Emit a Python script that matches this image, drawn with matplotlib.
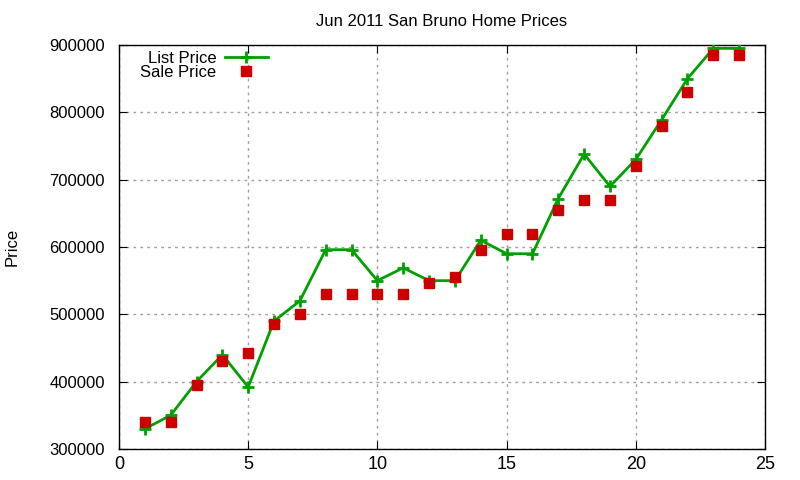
import matplotlib
matplotlib.use("Agg")
import matplotlib.pyplot as plt

plt.rcParams['font.family'] = ['Liberation Sans', 'DejaVu Sans']

x = list(range(1, 25))
list_price = [330000, 350000, 400000, 440000, 392000, 490000, 520000, 596000,
              596000, 550000, 569000, 550000, 550000, 610000, 590000, 590000,
              672000, 738000, 690000, 730000, 789000, 850000, 895000, 895000]
sale_price = [340000, 340000, 395000, 431000, 443000, 486000, 501000, 530000,
              530000, 530000, 530000, 546000, 556000, 596000, 620000, 620000,
              655000, 670000, 670000, 720000, 780000, 830000, 885000, 885000]
xticks = [0, 5, 10, 15, 20, 25]
yticks = [300000, 400000, 500000, 600000, 700000, 800000, 900000]

fig = plt.figure(figsize=(8, 4.8), dpi=100)
ax = fig.add_axes([119/800, 31/480, 646/800, 404/480])

ax.plot(x, list_price, color='#00a000', lw=2, marker='+', ms=8, mew=2,
        label='List Price', zorder=3)
ax.plot(x, sale_price, ls='none', marker='s', ms=6.5, color='#cc0000',
        label='Sale Price', zorder=4)

ax.set_xlim(0, 25)
ax.set_ylim(300000, 900000)
ax.set_xticks(xticks)
ax.set_yticks(yticks)
ax.set_xticklabels([str(t) for t in xticks])
ax.set_yticklabels([str(t) for t in yticks])
ax.tick_params(direction='in', top=True, right=True, length=6)
ax.tick_params(axis='x', labelsize=13, pad=5)
ax.tick_params(axis='y', labelsize=12, pad=10)
ax.grid(True, color='#a0a0a0', ls=(0, (2, 3)), lw=1)
for s in ax.spines.values():
    s.set_linewidth(1)

fig.text(442/800, 1 - 21/480, 'Jun 2011 San Bruno Home Prices', fontsize=12,
         ha='center', va='center')
fig.text(12/800, 1 - 247/480, 'Price', fontsize=12, rotation=90,
         ha='center', va='center')

leg = ax.legend(loc='upper right', bbox_to_anchor=(149/646, 0.985), frameon=False,
                markerfirst=False, fontsize=12, handlelength=2.6,
                labelspacing=-0.05, borderaxespad=0, borderpad=0,
                handletextpad=0.5)

fig.savefig('out.png', dpi=100)
